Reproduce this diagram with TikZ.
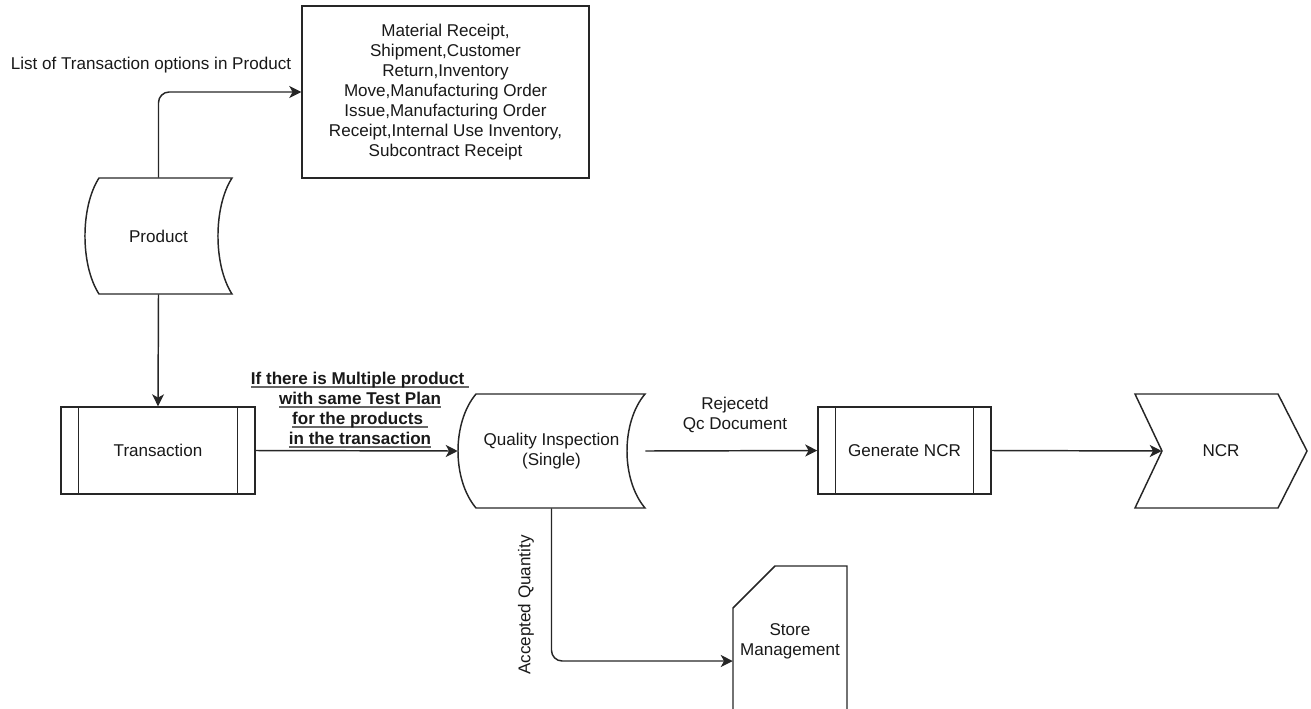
\documentclass[tikz,border=0pt]{standalone}
\usepackage{fontspec}
\setmainfont{Liberation Sans}
\usetikzlibrary{arrows.meta,calc}
\newcommand\ulx[1]{\setbox0\hbox{#1}\leavevmode\rlap{\color{gray!80!black}\rule[-2.4pt]{\wd0}{1.2pt}}\box0}
\begin{document}
\begin{tikzpicture}[x=0.75pt,y=-0.75pt,
  every node/.style={font=\fontsize{12.8}{15}\selectfont, text=black!90, inner sep=0pt},
  sz/.style 2 args={minimum width=#1*0.75pt, minimum height=#2*0.75pt},
  line/.style={draw=black!85, line width=1.1pt},
  procbox/.style={line, fill=white},
  conn/.style={line, rounded corners=8pt, -{Stealth[length=9pt,width=9pt,inset=2.5pt]}}
]
\useasboundingbox (0,0) rectangle (1311,708);

% ---- shapes ----
% Product (curved data shape)
\draw[line] (99,178) -- (232,178) .. controls (213.3,207) and (213.3,265) .. (232,294)
  -- (99,294) .. controls (80.3,265) and (80.3,207) .. (99,178) -- cycle;
\node[sz={147}{116}] (product) at (158.5,236) {Product};

% List box
\node[procbox, sz={287}{172}, align=center] (box) at (445.5,92)
  {Material Receipt,\\Shipment,Customer\\Return,Inventory\\Move,Manufacturing Order\\Issue,Manufacturing Order\\Receipt,Internal Use Inventory,\\Subcontract Receipt};

% Transaction (predefined process)
\node[procbox, sz={194}{87}] (trans) at (158,450.5) {Transaction};
\draw[line] ([xshift=13.5pt]trans.north west) -- ([xshift=13.5pt]trans.south west);
\draw[line] ([xshift=-13.5pt]trans.north east) -- ([xshift=-13.5pt]trans.south east);

% Quality Inspection (curved data shape)
\draw[line] (476,394) -- (645,394) .. controls (621,422.5) and (621,479.5) .. (645,508)
  -- (476,508) .. controls (452,479.5) and (452,422.5) .. (476,394) -- cycle;
\node[sz={187}{114}, align=center] (qi) at (551.5,451) {Quality Inspection\\(Single)};

% Generate NCR (predefined process)
\node[procbox, sz={173}{87}] (gen) at (904.5,450.5) {Generate NCR};
\draw[line] ([xshift=13.5pt]gen.north west) -- ([xshift=13.5pt]gen.south west);
\draw[line] ([xshift=-13.5pt]gen.north east) -- ([xshift=-13.5pt]gen.south east);

% NCR (step shape)
\draw[line] (1135,394) -- (1278,394) -- (1307,451) -- (1278,508) -- (1135,508) -- (1162,451) -- cycle;
\node[sz={172}{114}] (ncr) at (1221,451) {NCR};
\coordinate (ncrin) at ([xshift=20.25pt]ncr.west);

% Store Management (card, cut off at bottom)
\draw[line] (733,709) -- (733,608) -- (775,566) -- (847,566) -- (847,709);
\node[sz={114}{150}, align=center] (store) at (790,641) {Store\\Management};
\coordinate (storein) at ([yshift=-15pt]store.west);

% ---- connectors ----
\draw[conn] (product.north) |- (box.west);
\draw[conn] (product.south) -- (trans.north);
\draw[conn] (trans.east) -- (qi.west);
\draw[conn] (qi.east) -- (gen.west);
\draw[conn] (gen.east) -- (ncrin);
\draw[conn] (qi.south) |- (storein);

% ---- labels ----
\node (lbllist) at (151,65) {List of Transaction options in Product};
\node[align=center, font=\fontsize{12.8}{15}\selectfont\bfseries] (lblmulti) at (360,410)
  {\ulx{If there is Multiple product\ }\\\ulx{with same Test Plan}\\\ulx{for the products\ }\\\ulx{in the transaction}};
\node[align=center] (lblrej) at (735,415) {Rejecetd\\Qc Document};
\node[rotate=90] (lblacc) at (526,605) {Accepted Quantity};
\end{tikzpicture}
\end{document}
